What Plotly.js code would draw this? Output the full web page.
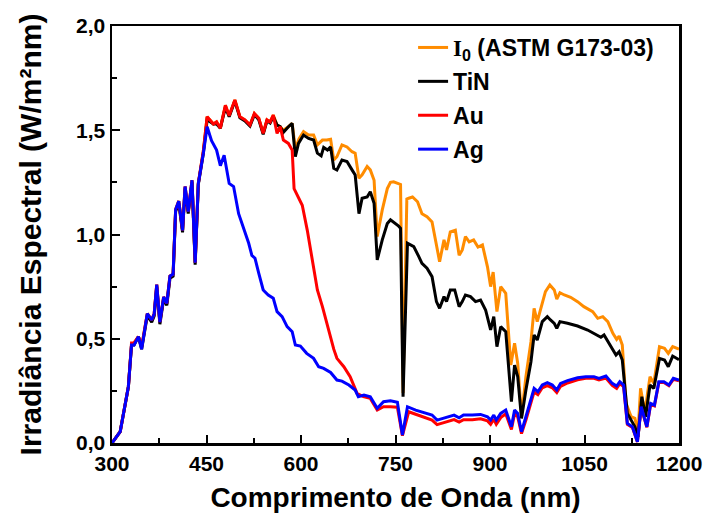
<!DOCTYPE html>
<html>
<head>
<meta charset="utf-8">
<script src="https://cdn.plot.ly/plotly-3.0.1.min.js"></script>
<style>html,body{margin:0;padding:0;background:#fff;}</style>
</head>
<body>
<div id="chart" style="width:705px;height:521px;"></div>
<script>
// [wavelength nm, irradiance W/m2nm]
const i0Data = [[300,0.0],[313,0.054],[326,0.27],[331,0.47],[335,0.48],[342,0.51],[347,0.46],[356,0.62],[363,0.59],[367,0.62],[371,0.76],[376,0.58],[382,0.70],[387,0.67],[392,0.80],[397,0.81],[401,1.12],[406,1.16],[412,1.02],[416,1.23],[421,1.11],[427,1.26],[432,0.865],[437,1.245],[445,1.40],[451,1.565],[461,1.53],[466,1.54],[472,1.51],[480,1.62],[486,1.57],[495,1.645],[503,1.565],[511,1.55],[519,1.525],[526,1.58],[533,1.557],[540,1.485],[546,1.55],[551,1.54],[556,1.573],[562,1.525],[567,1.517],[572,1.50],[580,1.517],[586,1.533],[591,1.41],[597,1.46],[604,1.493],[612,1.477],[620,1.477],[626,1.43],[634,1.453],[641,1.453],[647,1.457],[652,1.357],[657,1.373],[665,1.43],[673,1.42],[681,1.397],[686,1.39],[692,1.27],[697,1.286],[705,1.326],[710,1.31],[716,1.26],[721,0.99],[729,1.118],[737,1.22],[742,1.25],[747,1.253],[755,1.245],[758,1.24],[762,0.24],[768,1.17],[771,1.174],[777,1.18],[785,1.157],[792,1.10],[800,1.085],[808,1.06],[814,0.965],[820,0.87],[827,0.974],[831,0.926],[837,1.013],[845,1.021],[851,0.90],[856,0.926],[861,0.99],[867,0.965],[874,0.974],[881,0.94],[888,0.95],[896,0.845],[901,0.75],[905,0.82],[911,0.63],[917,0.75],[925,0.718],[933,0.374],[939,0.478],[944,0.382],[950,0.126],[957,0.318],[965,0.486],[970,0.646],[975,0.582],[983,0.678],[988,0.726],[995,0.758],[1002,0.734],[1006,0.69],[1011,0.721],[1018,0.71],[1028,0.699],[1039,0.678],[1049,0.654],[1063,0.63],[1071,0.598],[1079,0.606],[1087,0.582],[1095,0.526],[1101,0.497],[1105,0.513],[1110,0.47],[1116,0.19],[1124,0.126],[1130,0.118],[1135,0.054],[1139,0.262],[1146,0.142],[1150,0.238],[1154,0.318],[1160,0.286],[1169,0.462],[1177,0.454],[1183,0.43],[1190,0.462],[1198,0.454],[1200,0.45]];

const tinData = [[300,0.0],[313,0.054],[326,0.27],[331,0.47],[335,0.47],[342,0.51],[347,0.45],[356,0.61],[363,0.58],[367,0.61],[371,0.75],[376,0.57],[382,0.69],[387,0.66],[392,0.79],[397,0.80],[401,1.11],[406,1.15],[412,1.01],[416,1.22],[421,1.10],[427,1.25],[432,0.855],[437,1.24],[445,1.39],[451,1.55],[461,1.53],[466,1.53],[472,1.51],[480,1.61],[486,1.565],[495,1.64],[503,1.56],[511,1.545],[519,1.52],[526,1.575],[533,1.55],[540,1.48],[546,1.545],[551,1.535],[556,1.565],[562,1.525],[567,1.517],[572,1.49],[580,1.517],[586,1.533],[591,1.373],[596,1.437],[604,1.477],[612,1.461],[620,1.453],[626,1.39],[632,1.377],[636,1.418],[642,1.405],[647,1.42],[652,1.318],[657,1.31],[665,1.357],[673,1.35],[681,1.31],[686,1.285],[692,1.10],[697,1.174],[705,1.18],[710,1.205],[716,1.15],[721,0.878],[729,0.974],[737,1.053],[742,1.07],[747,1.06],[755,1.04],[758,1.03],[762,0.222],[769,0.958],[779,0.942],[787,0.894],[792,0.862],[800,0.838],[808,0.798],[815,0.678],[820,0.646],[827,0.702],[831,0.678],[837,0.734],[844,0.734],[851,0.654],[856,0.678],[861,0.71],[869,0.702],[877,0.678],[885,0.686],[893,0.638],[901,0.542],[906,0.606],[911,0.462],[917,0.558],[925,0.534],[934,0.198],[939,0.374],[944,0.318],[950,0.118],[957,0.254],[965,0.39],[970,0.518],[975,0.494],[983,0.582],[991,0.606],[996,0.59],[1002,0.574],[1006,0.55],[1011,0.582],[1023,0.574],[1039,0.561],[1055,0.542],[1068,0.518],[1076,0.507],[1081,0.518],[1095,0.446],[1100,0.422],[1105,0.438],[1110,0.398],[1118,0.142],[1124,0.11],[1130,0.078],[1135,0.03],[1141,0.222],[1147,0.126],[1154,0.278],[1160,0.262],[1169,0.406],[1177,0.398],[1183,0.366],[1190,0.417],[1198,0.406],[1200,0.40]];

const auData = [[300,0.0],[313,0.054],[326,0.27],[331,0.48],[335,0.48],[342,0.51],[347,0.46],[356,0.62],[363,0.59],[367,0.62],[371,0.76],[376,0.58],[382,0.70],[387,0.67],[392,0.80],[397,0.81],[401,1.12],[406,1.16],[412,1.02],[416,1.23],[421,1.11],[427,1.26],[432,0.865],[437,1.245],[445,1.40],[451,1.565],[461,1.53],[466,1.54],[472,1.51],[480,1.62],[486,1.57],[495,1.645],[503,1.565],[511,1.55],[519,1.525],[526,1.58],[533,1.557],[540,1.485],[546,1.55],[551,1.54],[556,1.573],[562,1.485],[567,1.517],[572,1.453],[580,1.437],[586,1.405],[589,1.22],[596,1.18],[602,1.14],[610,1.02],[618,0.877],[626,0.734],[634,0.654],[644,0.534],[652,0.45],[657,0.406],[668,0.366],[678,0.318],[689,0.238],[699,0.222],[710,0.214],[721,0.158],[731,0.174],[742,0.174],[753,0.172],[761,0.035],[771,0.15],[782,0.138],[795,0.125],[808,0.11],[816,0.088],[824,0.096],[832,0.104],[843,0.112],[851,0.10],[858,0.112],[872,0.112],[885,0.116],[896,0.106],[901,0.09],[906,0.114],[910,0.09],[917,0.122],[925,0.14],[934,0.065],[939,0.14],[944,0.125],[950,0.045],[957,0.11],[965,0.195],[970,0.245],[976,0.232],[983,0.265],[991,0.275],[999,0.265],[1006,0.242],[1012,0.272],[1023,0.288],[1039,0.303],[1052,0.31],[1065,0.31],[1073,0.302],[1084,0.312],[1094,0.276],[1101,0.262],[1106,0.285],[1112,0.27],[1118,0.09],[1126,0.075],[1134,0.005],[1140,0.17],[1149,0.075],[1155,0.185],[1161,0.178],[1168,0.29],[1176,0.29],[1184,0.275],[1191,0.305],[1198,0.30],[1200,0.298]];

const agData = [[300,0.0],[313,0.054],[326,0.27],[331,0.47],[335,0.47],[342,0.51],[347,0.45],[356,0.62],[363,0.59],[367,0.62],[371,0.76],[376,0.58],[382,0.70],[387,0.67],[392,0.80],[397,0.81],[401,1.12],[406,1.16],[412,1.02],[416,1.23],[421,1.11],[427,1.26],[432,0.865],[437,1.245],[445,1.39],[451,1.517],[458,1.45],[466,1.405],[472,1.33],[478,1.38],[486,1.245],[493,1.23],[501,1.10],[509,1.03],[517,0.958],[522,0.90],[527,0.886],[533,0.814],[540,0.734],[548,0.71],[556,0.694],[562,0.63],[570,0.606],[578,0.558],[586,0.534],[591,0.47],[599,0.465],[609,0.43],[620,0.406],[628,0.366],[636,0.358],[647,0.338],[657,0.302],[665,0.297],[676,0.278],[686,0.254],[691,0.222],[700,0.23],[710,0.222],[721,0.166],[731,0.198],[742,0.203],[753,0.195],[761,0.038],[769,0.174],[782,0.158],[795,0.145],[808,0.134],[816,0.11],[824,0.118],[832,0.126],[843,0.134],[851,0.121],[858,0.134],[872,0.134],[885,0.137],[896,0.126],[901,0.11],[906,0.134],[910,0.11],[917,0.142],[925,0.158],[934,0.078],[939,0.158],[944,0.142],[950,0.054],[957,0.126],[965,0.214],[970,0.262],[976,0.246],[983,0.278],[991,0.289],[999,0.278],[1006,0.254],[1012,0.286],[1023,0.299],[1039,0.313],[1052,0.318],[1065,0.318],[1073,0.310],[1084,0.321],[1094,0.286],[1101,0.273],[1106,0.294],[1112,0.278],[1118,0.094],[1126,0.078],[1134,0.006],[1140,0.174],[1149,0.078],[1155,0.19],[1161,0.182],[1168,0.294],[1176,0.294],[1184,0.278],[1191,0.31],[1198,0.305],[1200,0.302]];

const seriesNames = ['<span style="font-family:Liberation Serif">I</span><sub>0</sub> (ASTM G173-03)', 'TiN', 'Au', 'Ag'];
const seriesColors = ['#FF8C00', '#000000', '#FF0000', '#0000FF'];
const seriesData = [i0Data, tinData, auData, agData];

const traces = seriesData.map((d, i) => ({
  type: 'scatter', mode: 'lines',
  x: d.map(p => p[0]), y: d.map(p => p[1]),
  name: seriesNames[i], legendgroup: 'g' + i,
  line: {color: seriesColors[i], width: 3}
}));

const boldFont = {family: 'Liberation Sans, Arial, sans-serif', color: '#000', weight: 'bold'};

const layout = {
  width: 705, height: 521,
  margin: {l: 112, r: 26, t: 26, b: 78},
  separators: ',.',
  paper_bgcolor: '#fff', plot_bgcolor: '#fff',
  font: {family: 'Liberation Sans, Arial, sans-serif', color: '#000'},
  showlegend: true,
  legend: {x: 0.531, y: 1.0, xanchor: 'left', yanchor: 'top', bgcolor: 'rgba(0,0,0,0)',
           font: Object.assign({}, boldFont, {size: 23}), tracegroupgap: 1},
  xaxis: {
    range: [300, 1200], tick0: 300, dtick: 150,
    ticks: 'inside', ticklen: 8, tickwidth: 2, tickcolor: '#000',
    minor: {dtick: 75, ticks: 'inside', ticklen: 5, tickwidth: 2, tickcolor: '#000'},
    showline: true, linewidth: 2.5, linecolor: '#000', mirror: true,
    showgrid: false, zeroline: false,
    tickfont: Object.assign({}, boldFont, {size: 21}),
    title: {text: 'Comprimento de Onda (nm)', font: Object.assign({}, boldFont, {size: 28}), standoff: 14}
  },
  yaxis: {
    range: [0, 2], tick0: 0, dtick: 0.5, tickformat: '.1f',
    ticks: 'inside', ticklen: 8, tickwidth: 2, tickcolor: '#000',
    minor: {dtick: 0.25, ticks: 'inside', ticklen: 5, tickwidth: 2, tickcolor: '#000'},
    showline: true, linewidth: 2.5, linecolor: '#000', mirror: true,
    showgrid: false, zeroline: false,
    tickfont: Object.assign({}, boldFont, {size: 21}),
    title: {text: 'Irradiância Espectral (W/m²nm)', font: Object.assign({}, boldFont, {size: 30}), standoff: 26}
  }
};

Plotly.newPlot('chart', traces, layout, {displayModeBar: false, staticPlot: true});
</script>
</body>
</html>
